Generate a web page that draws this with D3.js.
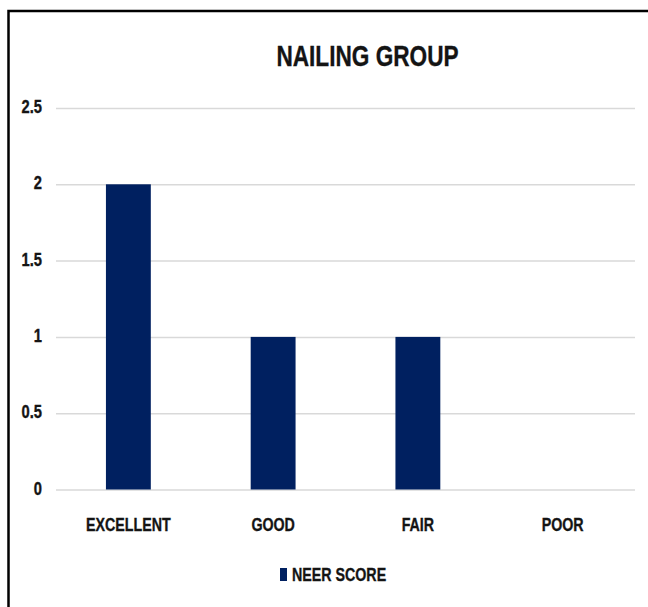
<!DOCTYPE html>
<html>
<head>
<meta charset="utf-8">
<script src="https://cdn.jsdelivr.net/npm/d3@7"></script>
<style>
	body { margin: 0; background: #fff; }
	text { font-family: "Liberation Sans", Arial, sans-serif; font-weight: bold; fill: #141414; stroke: #141414; stroke-width: 0.35; }
</style>
</head>
<body>
<script>
const CATEGORIES = ['EXCELLENT', 'GOOD', 'FAIR', 'POOR'];
const NEER_SCORE = [2, 1, 1, 0];
const Y_TICKS = [0, 0.5, 1, 1.5, 2, 2.5];
const SERIES_NAME = 'NEER SCORE';

// condensed look of the original font
const SQUEEZE = 'scale(0.77, 1)';

let svg = d3.select('body').append('svg')
	.attr('width', 648)
	.attr('height', 607);

// frame: left and top edges only
svg.append('path')
	.attr('d', 'M8.5,607 L8.5,11 L648,11')
	.attr('fill', 'none')
	.attr('stroke', '#000')
	.attr('stroke-width', 2.5);

let x = d3.scaleBand()
	.domain(CATEGORIES)
	.range([56, 635])
	.paddingInner(0.69)
	.paddingOuter(0.345);

let y = d3.scaleLinear()
	.domain([0, 2.5])
	.range([489.5, 108]);

svg.append('text')
	.attr('transform', `translate(367.5, 66) scale(0.78, 1)`)
	.attr('text-anchor', 'middle')
	.attr('font-size', 29)
	.text('NAILING GROUP');

let grid = svg.append('g')
	.attr('transform', 'translate(56, 0)')
	.call(d3.axisLeft(y).tickValues(Y_TICKS).tickSize(-579).tickFormat(''));
grid.select('.domain').remove();
grid.selectAll('line').attr('stroke', '#d9d9d9').attr('stroke-width', 1.5);

let yAxis = svg.append('g')
	.attr('transform', 'translate(42, 0)')
	.call(d3.axisLeft(y).tickValues(Y_TICKS).tickSize(0).tickPadding(0).tickFormat(d3.format('')));
yAxis.select('.domain').remove();
yAxis.selectAll('text')
	.attr('dy', null)
	.attr('y', 4.5)
	.attr('font-size', 17.5)
	.attr('fill', '#141414')
	.attr('transform', 'scale(0.84, 1)');

svg.selectAll('.bar')
	.data(NEER_SCORE)
	.enter()
	.append('rect')
	.attr('class', 'bar')
	.attr('x', (d, i) => x(CATEGORIES[i]))
	.attr('y', d => y(d))
	.attr('width', x.bandwidth())
	.attr('height', d => y(0) - y(d))
	.attr('fill', '#002060');

let xAxis = svg.append('g')
	.attr('transform', 'translate(0, 489.5)')
	.call(d3.axisBottom(x).tickSize(0).tickPadding(0));
xAxis.select('.domain').remove();
xAxis.selectAll('text')
	.attr('dy', null)
	.attr('y', 41.5)
	.attr('font-size', 18.5)
	.attr('fill', '#141414')
	.attr('transform', SQUEEZE);

let legend = svg.append('g')
	.attr('transform', 'translate(280, 568)');
legend.append('rect')
	.attr('width', 7)
	.attr('height', 13)
	.attr('fill', '#002060');
legend.append('text')
	.attr('transform', `translate(12, 13.3) scale(0.75, 1)`)
	.attr('font-size', 19)
	.text(SERIES_NAME);
</script>
</body>
</html>
